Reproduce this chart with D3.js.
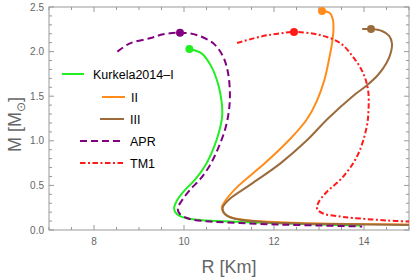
<!DOCTYPE html>
<html>
<head>
<meta charset="utf-8">
<script src="https://cdn.jsdelivr.net/npm/d3@7"></script>
<style>
  body{margin:0;background:#fff;}
  svg{display:block;font-family:"Liberation Sans",Arial,sans-serif;}
  .tick-label{fill:#666;font-size:10px;}
  .axis-title{fill:#666;font-size:18px;}
  .legend-label{fill:#000;font-size:12.5px;}
</style>
</head>
<body>
<div id="chart"></div>
<script>
/* Mass-radius curves, values (R in km, M in solar masses) */
var kurkelaI=[[10.12,2.03],[10.39,1.98],[10.6,1.84],[10.75,1.65],[10.83,1.46],[10.85,1.29],[10.79,1.12],
  [10.66,0.92],[10.47,0.72],[10.24,0.561],[10.02,0.448],[9.85,0.336],[9.78,0.24],[9.84,0.18],[10.06,0.131],
  [10.5,0.106],[11.24,0.09],[12.06,0.075],[13.02,0.062],[13.91,0.05]];
var kurkelaII=[[13.067,2.455],[13.24,2.433],[13.31,2.354],[13.32,2.242],[13.29,2.096],[13.22,1.906],[13.12,1.682],
  [12.96,1.457],[12.72,1.233],[12.32,1.0],[11.8,0.75],[11.22,0.5],[10.95,0.35],[10.84,0.25],
  [10.93,0.168],[11.13,0.129],[11.62,0.101],[12.58,0.078],[13.69,0.067],[15.0,0.062]];
var kurkelaIII=[[13.96,2.253],[14.156,2.253],[14.4,2.231],[14.56,2.175],[14.62,2.096],[14.6,1.996],[14.5,1.872],
  [14.31,1.738],[14.06,1.62],[13.75,1.5],[13.2,1.25],[12.72,1.0],[12.15,0.75],[11.45,0.5],[11.02,0.35],
  [10.86,0.25],[10.91,0.179],[11.11,0.129],[11.76,0.09],[12.58,0.073],[13.69,0.064],[15.0,0.056]];
var apr=[[8.52,2.0],[8.8,2.093],[9.24,2.149],[9.54,2.194],[9.911,2.212],[10.28,2.186],[10.65,2.093],[10.87,1.943],
  [10.98,1.757],[11.02,1.533],[11.0,1.345],[10.92,1.14],[10.77,0.93],[10.58,0.73],[10.36,0.57],[10.13,0.448],
  [9.96,0.336],[9.86,0.24],[9.91,0.179],[10.13,0.123],[10.58,0.095],[11.24,0.078],[12.07,0.062],[13.02,0.05],[13.96,0.039]];
var tm1=[[11.18,2.096],[11.76,2.175],[12.13,2.203],[12.444,2.22],[13.02,2.186],[13.47,2.096],[13.76,1.939],
  [13.98,1.76],[14.09,1.57],[14.1,1.345],[14.06,1.155],[13.86,0.84],[13.53,0.594],[13.15,0.415],
  [12.98,0.3],[12.96,0.235],[13.09,0.185],[13.47,0.151],[13.76,0.135],[14.51,0.107],[15.0,0.095]];

/* maximum-mass points */
var maxPoints=[
  {key:"I",r:10.12,m:2.03},{key:"II",r:13.067,m:2.455},{key:"III",r:14.156,m:2.253},
  {key:"APR",r:9.911,m:2.212},{key:"TM1",r:12.444,m:2.22}];

var series=[
  {key:"I",label:"Kurkela2014\u2013I",data:kurkelaI,color:"#22ee22",dash:null},
  {key:"II",label:"II",data:kurkelaII,color:"#ff8c1a",dash:null},
  {key:"III",label:"III",data:kurkelaIII,color:"#9c6b3c",dash:null},
  {key:"APR",label:"APR",data:apr,color:"#800080",dash:"7,4"},
  {key:"TM1",label:"TM1",data:tm1,color:"#ff1a1a",dash:"5.5,2.5,2,2.5"}];

var xDomain=[7,15], yDomain=[0,2.5];
var xMajor=[8,10,12,14], yMajor=[0,0.5,1.0,1.5,2.0,2.5];

var W=411,H=279, m={top:7,right:2,bottom:49,left:49};
var width=W-m.left-m.right, height=H-m.top-m.bottom;
var svg=d3.select("#chart").append("svg").attr("width",W).attr("height",H);
var g=svg.append("g").attr("transform","translate("+m.left+","+m.top+")");

var x=d3.scaleLinear().domain(xDomain).range([0,width]);
var y=d3.scaleLinear().domain(yDomain).range([height,0]);

/* frame with inward ticks on all four sides */
var frameColor="#999";
g.append("rect").attr("width",width).attr("height",height).attr("fill","none").attr("stroke",frameColor).attr("stroke-width",1);
var xMinor=d3.range(7,15.001,0.5), yMinor=d3.range(0,2.501,0.1).map(function(v){return +v.toFixed(2);});
function isMajorX(v){return xMajor.indexOf(v)!==-1;}
function isMajorY(v){return yMajor.some(function(t){return Math.abs(t-v)<1e-6;});}
xMinor.forEach(function(v){
  var len=isMajorX(v)?5:3, px=x(v);
  g.append("line").attr("x1",px).attr("x2",px).attr("y1",height).attr("y2",height-len).attr("stroke",frameColor);
  g.append("line").attr("x1",px).attr("x2",px).attr("y1",0).attr("y2",len).attr("stroke",frameColor);
});
yMinor.forEach(function(v){
  var len=isMajorY(v)?5:3, py=y(v);
  g.append("line").attr("x1",0).attr("x2",len).attr("y1",py).attr("y2",py).attr("stroke",frameColor);
  g.append("line").attr("x1",width).attr("x2",width-len).attr("y1",py).attr("y2",py).attr("stroke",frameColor);
});
g.selectAll("text.xt").data(xMajor).enter().append("text").attr("class","tick-label xt")
  .attr("x",function(d){return x(d);}).attr("y",height+15).attr("text-anchor","middle").text(function(d){return d;});
g.selectAll("text.yt").data(yMajor).enter().append("text").attr("class","tick-label yt")
  .attr("x",-5).attr("y",function(d){return y(d)+3.5;}).attr("text-anchor","end").text(function(d){return d.toFixed(1);});

/* axis titles */
svg.append("text").attr("class","axis-title").attr("x",m.left+width/2).attr("y",273).attr("text-anchor","middle").text("R [Km]");
var yt=svg.append("text").attr("class","axis-title").attr("transform","translate(21,"+(m.top+height/2+6)+") rotate(-90)").attr("text-anchor","middle");
yt.append("tspan").text("M [M");
yt.append("tspan").attr("font-size","12px").attr("dy",4).text("\u2299");
yt.append("tspan").attr("dy",-4).text("]");

/* curves */
var clip=svg.append("defs").append("clipPath").attr("id","plot-clip");
clip.append("rect").attr("width",width).attr("height",height);
var line=d3.line().x(function(d){return x(d[0]);}).y(function(d){return y(d[1]);}).curve(d3.curveCatmullRom.alpha(0.5));
var plot=g.append("g").attr("clip-path","url(#plot-clip)");
series.forEach(function(s){
  plot.append("path").datum(s.data).attr("d",line).attr("fill","none").attr("stroke",s.color)
    .attr("stroke-width",2).attr("stroke-dasharray",s.dash);
});
var colorOf={}; series.forEach(function(s){colorOf[s.key]=s.color;});
g.selectAll("circle.peak").data(maxPoints).enter().append("circle").attr("class","peak")
  .attr("cx",function(d){return x(d.r);}).attr("cy",function(d){return y(d.m);}).attr("r",4)
  .attr("fill",function(d){return colorOf[d.key];});

/* legend */
var legRows=[
  {key:"I",x1:62,x2:84,tx:93,y:74},
  {key:"II",x1:102,x2:125,tx:131,y:97},
  {key:"III",x1:100,x2:124,tx:130,y:119},
  {key:"APR",x1:80,x2:123,tx:130,y:141},
  {key:"TM1",x1:80,x2:123,tx:130,y:163}];
legRows.forEach(function(r){
  var s=series.filter(function(d){return d.key===r.key;})[0];
  svg.append("line").attr("x1",r.x1).attr("x2",r.x2).attr("y1",r.y).attr("y2",r.y)
    .attr("stroke",s.color).attr("stroke-width",2).attr("stroke-dasharray",s.dash);
  svg.append("text").attr("class","legend-label").attr("x",r.tx).attr("y",r.y+4.5).text(s.label);
});
</script>
</body>
</html>
